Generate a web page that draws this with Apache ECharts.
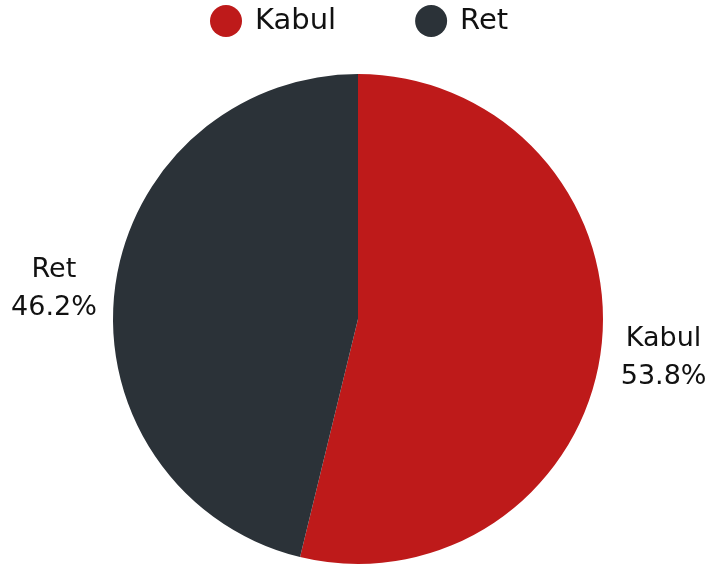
<!DOCTYPE html>
<html>
<head>
<meta charset="utf-8">
<script src="https://cdn.jsdelivr.net/npm/echarts@6/dist/echarts.min.js"></script>
<style>
html, body { margin: 0; padding: 0; background: #fff; }
#chart { width: 709px; height: 569px; }
</style>
</head>
<body>
<div id="chart"></div>
<script>
// 数据
var names = ['Kabul', 'Ret'];
var values = [53.8, 46.2];
var colors = ['#BE1A1A', '#2B3238'];

var pie_data = [];
for (var i = 0; i < names.length; i++) {
    pie_data.push({ name: names[i], value: values[i], itemStyle: { color: colors[i] } });
}

var font = 'DejaVu Sans';

var option = {
    animation: false,
    textStyle: { fontFamily: font },
    legend: {
        top: 0,
        left: 205,
        icon: 'circle',
        itemWidth: 32,
        itemHeight: 32,
        itemGap: 79,
        textStyle: { fontSize: 29, color: '#111', fontFamily: font, padding: [0, 0, 0, 8] },
        data: names
    },
    series: [
        {
            type: 'pie',
            center: [358, 319],
            radius: 245,
            startAngle: 90,
            clockwise: true,
            data: pie_data,
            label: {
                show: true,
                position: 'outside',
                formatter: '{t|{b}}\n{t|{d}%}',
                overflow: 'none',
                color: '#111',
                rich: {
                    t: { fontSize: 27, lineHeight: 38, align: 'center', color: '#111', fontFamily: font }
                }
            },
            // Kabul 的标签稍微往下
            labelLayout: function(params) {
                return params.dataIndex === 0 ? { dy: 9, dx: 3 } : { dx: 2 };
            },
            labelLine: { show: false, length: 10, length2: 6 },
            itemStyle: { borderWidth: 0 }
        }
    ]
};

var myChart = echarts.init(document.getElementById('chart'));
myChart.setOption(option);
</script>
</body>
</html>
